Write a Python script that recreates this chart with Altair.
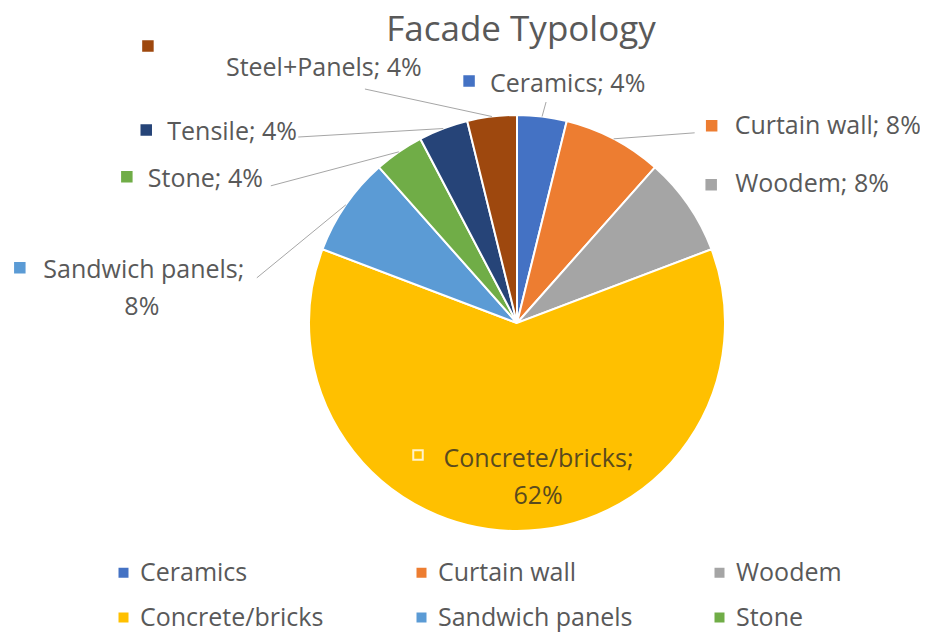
import math
import altair as alt
import pandas as pd

# ---------------- data ----------------
categories = ["Ceramics", "Curtain wall", "Woodem", "Concrete/bricks",
              "Sandwich panels", "Stone", "Tensile", "Steel+Panels"]
counts = [1, 2, 2, 16, 2, 1, 1, 1]
colors = ["#4472C4", "#ED7D31", "#A5A5A5", "#FFC000",
          "#5B9BD5", "#70AD47", "#264478", "#9E480E"]
title_text = "Facade Typology"

# ---------------- layout / style ----------------
FONT = "Open Sans"
TXT = "#595959"
R = 208                      # pie radius (px)
VW, VH = 806, 602            # view size, pie centred in it
PAD = {"left": 106, "top": 14, "right": 0, "bottom": 8}

# label placement: offsets (px, +x right, +y down) from the slice's outer edge point
LAYOUT = {
    "Ceramics":        dict(lines=[(-52, -24.5)], align="left", key=(-73, -35.5), lead=(4, -14.5)),
    "Curtain wall":    dict(lines=[(121, -5)], align="left", key=(98, -13), lead=(81, -6)),
    "Woodem":          dict(lines=[(47, -13)], align="left", key=(23, -20), lead=None),
    "Concrete/bricks": dict(lines=[(21.5, -64), (21, -27)], align="center", key=(-99, -76), lead=None),
    "Sandwich panels": dict(lines=[(-202, 73), (-204, 110)], align="center", key=(-326, 63), lead=(-89, 73)),
    "Stone":           dict(lines=[(-251, 35)], align="left", key=(-272, 25), lead=(-128, 34)),
    "Tensile":         dict(lines=[(-276, 11.5)], align="left", key=(-297, 1.5), lead=(-145, 8.5)),
    "Steel+Panels":    dict(lines=[(-266, -40.5)], align="left", key=(-344, -70.5), lead=(-127, -27.5)),
}

total = sum(counts)
pie_df = pd.DataFrame({"category": categories, "count": counts, "idx": range(len(categories))})

text_rows, key_rows, lead_rows = [], [], []
cum = 0
for cat, c, col in zip(categories, counts, colors):
    mid = (cum + c / 2) / total * 2 * math.pi
    cum += c
    ex, ey = R * math.sin(mid), R * math.cos(mid)     # edge point, y up
    pct = f"{round(c / total * 100)}%"
    lay = LAYOUT[cat]
    texts = [f"{cat};", pct] if len(lay["lines"]) == 2 else [f"{cat}; {pct}"]
    tcol = "#5a4a1e" if cat == "Concrete/bricks" else TXT
    for t, (dx, dy) in zip(texts, lay["lines"]):
        text_rows.append(dict(label=t, x=ex + dx, y=ey - dy, align=lay["align"], tcol=tcol))
    kx, ky = lay["key"]
    key_rows.append(dict(x=ex + kx, y=ey - ky, fill=col,
                         stroke="#FFF2CC" if cat == "Concrete/bricks" else col))
    if lay["lead"] is not None:
        lx, ly = lay["lead"]
        lead_rows.append(dict(x=ex + lx, y=ey - ly, x2=ex, y2=ey))

text_df = pd.DataFrame(text_rows)
key_df = pd.DataFrame(key_rows)
lead_df = pd.DataFrame(lead_rows)

xs = alt.Scale(domain=[-VW / 2, VW / 2], nice=False, zero=False)
ys = alt.Scale(domain=[-VH / 2, VH / 2], nice=False, zero=False)

pie = alt.Chart(pie_df).mark_arc(radius=R, stroke="white", strokeWidth=2).encode(
    theta=alt.Theta("count:Q", stack=True),
    order=alt.Order("idx:Q", sort="ascending"),
    color=alt.Color(
        "category:N",
        scale=alt.Scale(domain=categories, range=colors),
        legend=alt.Legend(
            orient="none", legendX=-3, legendY=538, direction="horizontal",
            columns=3, gridAlign="all", symbolType="square", symbolSize=100,
            symbolStrokeWidth=0, labelFont=FONT, labelFontSize=25,
            labelColor=TXT, columnPadding=74, rowPadding=19, labelOffset=4,
            title=None, padding=0, labelLimit=400,
        ),
    ),
)

leads = alt.Chart(lead_df).mark_rule(color="#A6A6A6", strokeWidth=1).encode(
    x=alt.X("x:Q", scale=xs, axis=None),
    y=alt.Y("y:Q", scale=ys, axis=None),
    x2="x2:Q",
    y2="y2:Q",
)

keys = alt.Chart(key_df).mark_point(shape="square", filled=True, size=90, strokeWidth=2, opacity=1).encode(
    x=alt.X("x:Q", scale=xs, axis=None),
    y=alt.Y("y:Q", scale=ys, axis=None),
    fill=alt.Fill("fill:N", scale=None),
    stroke=alt.Stroke("stroke:N", scale=None),
)

def text_layer(align):
    return alt.Chart(text_df[text_df["align"] == align]).mark_text(
        align=align, baseline="alphabetic", font=FONT, fontSize=25
    ).encode(
        x=alt.X("x:Q", scale=xs, axis=None),
        y=alt.Y("y:Q", scale=ys, axis=None),
        text="label:N",
        color=alt.Color("tcol:N", scale=None),
    )

chart = alt.layer(pie, leads, keys, text_layer("left"), text_layer("center")).properties(
    width=VW, height=VH,
    autosize=alt.AutoSizeParams(type="none"),
    padding=PAD,
    background="white",
    title=alt.TitleParams(
        title_text, font=FONT, fontSize=35, fontWeight="normal", color=TXT,
        anchor="middle", frame="group", dx=4, dy=26, offset=0,
    ),
).configure_view(stroke=None)

chart.save("out.html", embed_options={"renderer": "svg", "actions": False})
